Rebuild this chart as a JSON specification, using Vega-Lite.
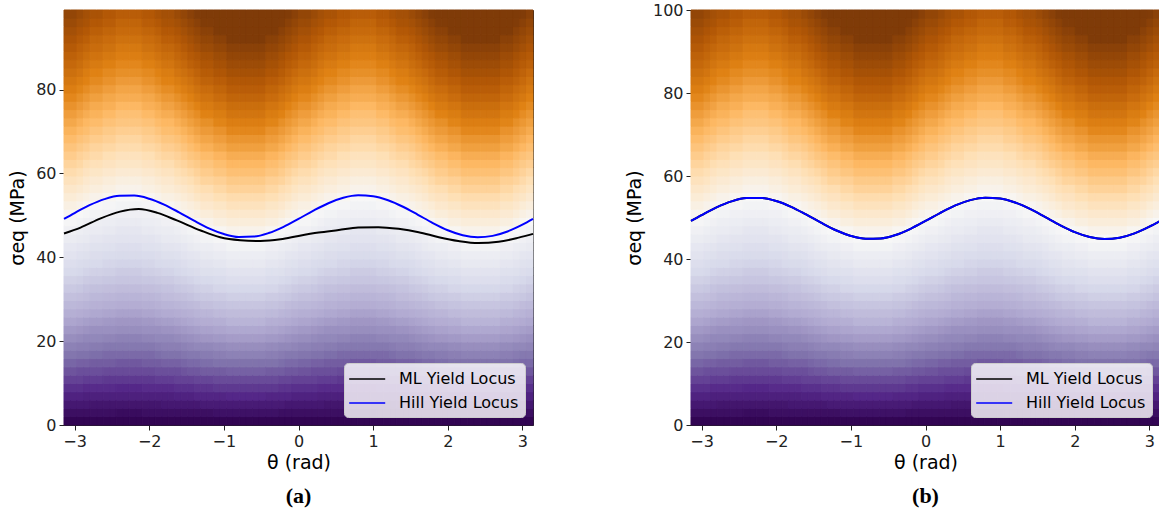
{
  "$schema": "https://vega.github.io/schema/vega-lite/v6.json",
  "padding": {"left": 8, "top": 1, "right": 0, "bottom": 0},
  "background": "white",
  "bounds": "flush",
  "spacing": 158,
  "datasets": {
    "prof": [
      {"L": 45, "s": [1,3,5,7,9,11,13,15,17,19,21,23,25,27,29,31,33,35,37,39,41,43,45,47,49,51,53,55,57,59,61,63,65,67,69,71,73,75,77,79,81,83,85,87,89,91,93,95,97,99],
       "r": [0.02,0.07,0.11,0.16,0.2,0.24,0.29,0.33,0.38,0.42,0.47,0.51,0.56,0.6,0.64,0.69,0.73,0.78,0.82,0.87,0.91,0.96,1,1.04,1.09,1.13,1.18,1.22,1.27,1.31,1.36,1.4,1.44,1.49,1.53,1.58,1.62,1.67,1.71,1.76,1.8,1.84,1.89,1.93,1.98,2.02,2.07,2.11,2.16,2.2]},
      {"L": 46, "s": [1,3,5,7,9,11,13,15,17,19,21,23,25,27,29,31,33,35,37,39,41,43,45,47,49,51,53,55,57,59,61,63,65,67,69,71,73,75,77,79,81,83,85,87,89,91,93,95,97,99],
       "r": [0.02,0.07,0.11,0.15,0.2,0.24,0.28,0.33,0.37,0.41,0.46,0.5,0.54,0.59,0.63,0.67,0.72,0.76,0.8,0.85,0.89,0.93,0.98,1.02,1.07,1.11,1.15,1.2,1.24,1.28,1.33,1.37,1.41,1.46,1.5,1.54,1.59,1.63,1.67,1.72,1.76,1.8,1.85,1.89,1.93,1.98,2.02,2.07,2.11,2.15]},
      {"L": 47, "s": [1,3,5,7,9,11,13,15,17,19,21,23,25,27,29,31,33,35,37,39,41,43,45,47,49,51,53,55,57,59,61,63,65,67,69,71,73,75,77,79,81,83,85,87,89,91,93,95,97,99],
       "r": [0.02,0.06,0.11,0.15,0.19,0.23,0.28,0.32,0.36,0.4,0.45,0.49,0.53,0.57,0.62,0.66,0.7,0.74,0.79,0.83,0.87,0.91,0.96,1,1.04,1.09,1.13,1.17,1.21,1.26,1.3,1.34,1.38,1.43,1.47,1.51,1.55,1.6,1.64,1.68,1.72,1.77,1.81,1.85,1.89,1.94,1.98,2.02,2.06,2.11]},
      {"L": 48, "s": [1,3,5,7,9,11,13,15,17,19,21,23,25,27,29,31,33,35,37,39,41,43,45,47,49,51,53,55,57,59,61,63,65,67,69,71,73,75,77,79,81,83,85,87,89,91,93,95,97,99],
       "r": [0.02,0.06,0.1,0.15,0.19,0.23,0.27,0.31,0.35,0.4,0.44,0.48,0.52,0.56,0.6,0.65,0.69,0.73,0.77,0.81,0.85,0.9,0.94,0.98,1.02,1.06,1.1,1.15,1.19,1.23,1.27,1.31,1.35,1.4,1.44,1.48,1.52,1.56,1.6,1.65,1.69,1.73,1.77,1.81,1.85,1.9,1.94,1.98,2.02,2.06]},
      {"L": 49, "s": [1,3,5,7,9,11,13,15,17,19,21,23,25,27,29,31,33,35,37,39,41,43,45,47,49,51,53,55,57,59,61,63,65,67,69,71,73,75,77,79,81,83,85,87,89,91,93,95,97,99],
       "r": [0.02,0.06,0.1,0.14,0.18,0.22,0.27,0.31,0.35,0.39,0.43,0.47,0.51,0.55,0.59,0.63,0.67,0.71,0.76,0.8,0.84,0.88,0.92,0.96,1,1.04,1.08,1.12,1.16,1.2,1.24,1.29,1.33,1.37,1.41,1.45,1.49,1.53,1.57,1.61,1.65,1.69,1.73,1.78,1.82,1.86,1.9,1.94,1.98,2.02]},
      {"L": 50, "s": [1,3,5,7,9,11,13,15,17,19,21,23,25,27,29,31,33,35,37,39,41,43,45,47,49,51,53,55,57,59,61,63,65,67,69,71,73,75,77,79,81,83,85,87,89,91,93,95,97,99],
       "r": [0.02,0.06,0.1,0.14,0.18,0.22,0.26,0.3,0.34,0.38,0.42,0.46,0.5,0.54,0.58,0.62,0.66,0.7,0.74,0.78,0.82,0.86,0.9,0.94,0.98,1.02,1.06,1.1,1.14,1.18,1.22,1.26,1.3,1.34,1.38,1.42,1.46,1.5,1.54,1.58,1.62,1.66,1.7,1.74,1.78,1.82,1.86,1.9,1.94,1.98]},
      {"L": 51, "s": [1,3,5,7,9,11,13,15,17,19,21,23,25,27,29,31,33,35,37,39,41,43,45,47,49,51,53,55,57,59,61,63,65,67,69,71,73,75,77,79,81,83,85,87,89,91,93,95,97,99],
       "r": [0.02,0.06,0.1,0.14,0.18,0.22,0.25,0.29,0.33,0.37,0.41,0.45,0.49,0.53,0.57,0.61,0.65,0.69,0.73,0.76,0.8,0.84,0.88,0.92,0.96,1,1.04,1.08,1.12,1.16,1.2,1.24,1.27,1.31,1.35,1.39,1.43,1.47,1.51,1.55,1.59,1.63,1.67,1.71,1.75,1.78,1.82,1.86,1.9,1.94]},
      {"L": 52, "s": [1,3,5,7,9,11,13,15,17,19,21,23,25,27,29,31,33,35,37,39,41,43,45,47,49,51,53,55,57,59,61,63,65,67,69,71,73,75,77,79,81,83,85,87,89,91,93,95,97,99],
       "r": [0.02,0.06,0.1,0.13,0.17,0.21,0.25,0.29,0.33,0.37,0.4,0.44,0.48,0.52,0.56,0.6,0.63,0.67,0.71,0.75,0.79,0.83,0.87,0.9,0.94,0.98,1.02,1.06,1.1,1.13,1.17,1.21,1.25,1.29,1.33,1.37,1.4,1.44,1.48,1.52,1.56,1.6,1.63,1.67,1.71,1.75,1.79,1.83,1.87,1.9]},
      {"L": 53, "s": [1,3,5,7,9,11,13,15,17,19,21,23,25,27,29,31,33,35,37,39,41,43,45,47,49,51,53,55,57,59,61,63,65,67,69,71,73,75,77,79,81,83,85,87,89,91,93,95,97,99],
       "r": [0.02,0.06,0.09,0.13,0.17,0.21,0.25,0.28,0.32,0.36,0.4,0.43,0.47,0.51,0.55,0.58,0.62,0.66,0.7,0.74,0.77,0.81,0.85,0.89,0.92,0.96,1,1.04,1.08,1.11,1.15,1.19,1.23,1.26,1.3,1.34,1.38,1.42,1.45,1.49,1.53,1.57,1.6,1.64,1.68,1.72,1.75,1.79,1.83,1.87]},
      {"L": 54, "s": [1,3,5,7,9,11,13,15,17,19,21,23,25,27,29,31,33,35,37,39,41,43,45,47,49,51,53,55,57,59,61,63,65,67,69,71,73,75,77,79,81,83,85,87,89,91,93,95,97,99],
       "r": [0.02,0.06,0.09,0.13,0.17,0.2,0.24,0.28,0.31,0.35,0.39,0.43,0.46,0.5,0.54,0.57,0.61,0.65,0.69,0.72,0.76,0.8,0.83,0.87,0.91,0.94,0.98,1.02,1.06,1.09,1.13,1.17,1.2,1.24,1.28,1.31,1.35,1.39,1.43,1.46,1.5,1.54,1.57,1.61,1.65,1.69,1.72,1.76,1.8,1.83]},
      {"L": 55, "s": [1,3,5,7,9,11,13,15,17,19,21,23,25,27,29,31,33,35,37,39,41,43,45,47,49,51,53,55,57,59,61,63,65,67,69,71,73,75,77,79,81,83,85,87,89,91,93,95,97,99],
       "r": [0.02,0.05,0.09,0.13,0.16,0.2,0.24,0.27,0.31,0.35,0.38,0.42,0.45,0.49,0.53,0.56,0.6,0.64,0.67,0.71,0.75,0.78,0.82,0.85,0.89,0.93,0.96,1,1.04,1.07,1.11,1.15,1.18,1.22,1.25,1.29,1.33,1.36,1.4,1.44,1.47,1.51,1.55,1.58,1.62,1.65,1.69,1.73,1.76,1.8]}
    ],
    "cols": [
      {"k":0,"L":50},{"k":1,"L":50},{"k":2,"L":51},{"k":3,"L":52},{"k":4,"L":53},{"k":5,"L":53},{"k":6,"L":54},{"k":7,"L":54},{"k":8,"L":55},
      {"k":9,"L":55},{"k":10,"L":55},{"k":11,"L":55},{"k":12,"L":54},{"k":13,"L":54},{"k":14,"L":53},{"k":15,"L":52},{"k":16,"L":52},{"k":17,"L":51},
      {"k":18,"L":50},{"k":19,"L":49},{"k":20,"L":48},{"k":21,"L":47},{"k":22,"L":47},{"k":23,"L":46},{"k":24,"L":46},{"k":25,"L":45},{"k":26,"L":45},
      {"k":27,"L":45},{"k":28,"L":45},{"k":29,"L":45},{"k":30,"L":45},{"k":31,"L":46},{"k":32,"L":46},{"k":33,"L":47},{"k":34,"L":48},{"k":35,"L":49},
      {"k":36,"L":50},{"k":37,"L":50},{"k":38,"L":51},{"k":39,"L":52},{"k":40,"L":53},{"k":41,"L":53},{"k":42,"L":54},{"k":43,"L":54},{"k":44,"L":55},
      {"k":45,"L":55},{"k":46,"L":55},{"k":47,"L":55},{"k":48,"L":54},{"k":49,"L":54},{"k":50,"L":53},{"k":51,"L":52},{"k":52,"L":52},{"k":53,"L":51},
      {"k":54,"L":50},{"k":55,"L":49},{"k":56,"L":48},{"k":57,"L":47},{"k":58,"L":47},{"k":59,"L":46},{"k":60,"L":46},{"k":61,"L":45},{"k":62,"L":45},
      {"k":63,"L":45},{"k":64,"L":45},{"k":65,"L":45},{"k":66,"L":45},{"k":67,"L":46},{"k":68,"L":46},{"k":69,"L":47},{"k":70,"L":48},{"k":71,"L":49}
    ],
    "mlA": [
      {"t":-3.1416,"v":45.7},{"t":-2.92,"v":47.1},{"t":-2.65,"v":49.3},{"t":-2.39,"v":50.9},{"t":-2.14,"v":51.5},{"t":-1.89,"v":50.6},
      {"t":-1.63,"v":48.8},{"t":-1.31,"v":46.4},{"t":-1.05,"v":44.8},{"t":-0.78,"v":44.1},{"t":-0.51,"v":43.9},{"t":-0.24,"v":44.3},
      {"t":0,"v":45.1},{"t":0.27,"v":45.9},{"t":0.54,"v":46.5},{"t":0.8,"v":47.1},{"t":1.07,"v":47.2},{"t":1.34,"v":46.8},
      {"t":1.61,"v":46.0},{"t":1.88,"v":44.8},{"t":2.14,"v":43.9},{"t":2.41,"v":43.4},{"t":2.68,"v":43.7},{"t":2.95,"v":44.7},{"t":3.1416,"v":45.6}
    ],
    "hill": [
      {"t":-3.1416,"v":49.16},{"t":-3.0,"v":50.57},{"t":-2.8,"v":52.43},{"t":-2.6,"v":53.88},{"t":-2.4,"v":54.68},{"t":-2.2,"v":54.72},
      {"t":-2.0,"v":53.98},{"t":-1.8,"v":52.58},{"t":-1.6,"v":50.73},{"t":-1.4,"v":48.75},{"t":-1.2,"v":46.92},{"t":-1.0,"v":45.56},
      {"t":-0.8,"v":44.86},{"t":-0.6,"v":44.95},{"t":-0.4,"v":45.79},{"t":-0.2,"v":47.28},{"t":0,"v":49.16},{"t":0.2,"v":51.14},
      {"t":0.4,"v":52.91},{"t":0.6,"v":54.19},{"t":0.8,"v":54.78},{"t":1.0,"v":54.58},{"t":1.2,"v":53.62},{"t":1.4,"v":52.07},
      {"t":1.6,"v":50.15},{"t":1.8,"v":48.18},{"t":2.0,"v":46.47},{"t":2.2,"v":45.28},{"t":2.4,"v":44.8},{"t":2.6,"v":45.12},
      {"t":2.8,"v":46.17},{"t":3.0,"v":47.8},{"t":3.1416,"v":49.16}
    ]
  },
  "hconcat": [
    {
      "title": {"text": "(a)"},
      "width": 469,
      "height": 415,
      "layer": [
        {
          "data": {"name": "cols"},
          "transform": [
            {"lookup": "L", "from": {"data": {"name": "prof"}, "key": "L", "fields": ["s", "r"]}},
            {"flatten": ["s", "r"]}
          ],
          "mark": {"type": "rect", "strokeWidth": 1},
          "encoding": {
            "x": {"field": "k", "type": "ordinal", "axis": null, "scale": {"paddingInner": 0, "paddingOuter": 0}},
            "y": {"field": "s", "type": "ordinal", "sort": "descending", "axis": null, "scale": {"paddingInner": 0, "paddingOuter": 0}},
            "fill": {"field": "r", "type": "quantitative", "legend": null,
              "scale": {"domain": [0,0.16,0.33,0.52,0.74,1,1.2,1.4,1.6,1.83,2.07], "range": ["#2d004b","#542788","#8073ac","#b2abd2","#d8daeb","#f7f7f7","#fee0b6","#fdb863","#e08214","#b35806","#7f3b08"], "interpolate": "rgb", "clamp": true}},
            "stroke": {"field": "r", "type": "quantitative", "legend": null,
              "scale": {"domain": [0,0.16,0.33,0.52,0.74,1,1.2,1.4,1.6,1.83,2.07], "range": ["#2d004b","#542788","#8073ac","#b2abd2","#d8daeb","#f7f7f7","#fee0b6","#fdb863","#e08214","#b35806","#7f3b08"], "interpolate": "rgb", "clamp": true}}
          }
        },
        {
          "layer": [
            {
              "data": {"name": "mlA"},
              "mark": {"type": "line", "strokeWidth": 2, "interpolate": "monotone"},
              "encoding": {
                "x": {"field": "t", "type": "quantitative", "scale": {"domain": [-3.1416, 3.1416], "nice": false, "zero": false},
                  "axis": {"orient": "bottom", "title": "θ (rad)", "values": [-3,-2,-1,0,1,2,3], "format": "d", "labelFlush": false, "grid": false, "labelPadding": 3, "titlePadding": 4}},
                "y": {"field": "v", "type": "quantitative", "scale": {"domain": [0, 99], "nice": false, "zero": false},
                  "axis": {"orient": "left", "title": "σeq (MPa)", "values": [0,20,40,60,80,100], "format": "d", "labelFlush": false, "grid": false, "labelPadding": 3, "titlePadding": 8}},
                "color": {"datum": "ML Yield Locus", "type": "nominal",
                  "scale": {"domain": ["ML Yield Locus", "Hill Yield Locus"], "range": ["#000000", "#0000ff"]},
                  "legend": {"orient": "bottom-right", "offset": 8, "title": null, "symbolType": "M-1.2,0H2.8", "symbolSize": 324, "symbolStrokeWidth": 1.5, "labelFontSize": 16, "labelFont": "DejaVu Sans", "labelColor": "#000000", "labelOffset": 29, "rowPadding": 6, "padding": 6, "fillColor": "rgba(255,255,255,0.8)", "strokeColor": "#cccccc", "cornerRadius": 4}}
              }
            },
            {
              "data": {"name": "hill"},
              "mark": {"type": "line", "strokeWidth": 2, "interpolate": "monotone"},
              "encoding": {
                "x": {"field": "t", "type": "quantitative"},
                "y": {"field": "v", "type": "quantitative"},
                "color": {"datum": "Hill Yield Locus", "type": "nominal"}
              }
            }
          ]
        }
      ],
      "resolve": {"scale": {"x": "independent", "y": "independent"}}
    },
    {
      "title": {"text": "(b)"},
      "width": 469,
      "height": 415,
      "layer": [
        {
          "data": {"name": "cols"},
          "transform": [
            {"lookup": "L", "from": {"data": {"name": "prof"}, "key": "L", "fields": ["s", "r"]}},
            {"flatten": ["s", "r"]}
          ],
          "mark": {"type": "rect", "strokeWidth": 1},
          "encoding": {
            "x": {"field": "k", "type": "ordinal", "axis": null, "scale": {"paddingInner": 0, "paddingOuter": 0}},
            "y": {"field": "s", "type": "ordinal", "sort": "descending", "axis": null, "scale": {"paddingInner": 0, "paddingOuter": 0}},
            "fill": {"field": "r", "type": "quantitative", "legend": null,
              "scale": {"domain": [0,0.16,0.33,0.52,0.74,1,1.2,1.4,1.6,1.83,2.07], "range": ["#2d004b","#542788","#8073ac","#b2abd2","#d8daeb","#f7f7f7","#fee0b6","#fdb863","#e08214","#b35806","#7f3b08"], "interpolate": "rgb", "clamp": true}},
            "stroke": {"field": "r", "type": "quantitative", "legend": null,
              "scale": {"domain": [0,0.16,0.33,0.52,0.74,1,1.2,1.4,1.6,1.83,2.07], "range": ["#2d004b","#542788","#8073ac","#b2abd2","#d8daeb","#f7f7f7","#fee0b6","#fdb863","#e08214","#b35806","#7f3b08"], "interpolate": "rgb", "clamp": true}}
          }
        },
        {
          "layer": [
            {
              "data": {"name": "hill"},
              "mark": {"type": "line", "strokeWidth": 2, "interpolate": "monotone"},
              "encoding": {
                "x": {"field": "t", "type": "quantitative", "scale": {"domain": [-3.1416, 3.1416], "nice": false, "zero": false},
                  "axis": {"orient": "bottom", "title": "θ (rad)", "values": [-3,-2,-1,0,1,2,3], "format": "d", "labelFlush": false, "grid": false, "labelPadding": 3, "titlePadding": 4}},
                "y": {"field": "v", "type": "quantitative", "scale": {"domain": [0, 100], "nice": false, "zero": false},
                  "axis": {"orient": "left", "title": "σeq (MPa)", "values": [0,20,40,60,80,100], "format": "d", "labelFlush": false, "grid": false, "labelPadding": 3, "titlePadding": 8}},
                "color": {"datum": "ML Yield Locus", "type": "nominal",
                  "scale": {"domain": ["ML Yield Locus", "Hill Yield Locus"], "range": ["#000000", "#0000ff"]},
                  "legend": {"orient": "bottom-right", "offset": 8, "title": null, "symbolType": "M-1.2,0H2.8", "symbolSize": 324, "symbolStrokeWidth": 1.5, "labelFontSize": 16, "labelFont": "DejaVu Sans", "labelColor": "#000000", "labelOffset": 29, "rowPadding": 6, "padding": 6, "fillColor": "rgba(255,255,255,0.8)", "strokeColor": "#cccccc", "cornerRadius": 4}}
              }
            },
            {
              "data": {"name": "hill"},
              "mark": {"type": "line", "strokeWidth": 2, "interpolate": "monotone"},
              "encoding": {
                "x": {"field": "t", "type": "quantitative"},
                "y": {"field": "v", "type": "quantitative"},
                "color": {"datum": "Hill Yield Locus", "type": "nominal"}
              }
            }
          ]
        }
      ],
      "resolve": {"scale": {"x": "independent", "y": "independent"}}
    }
  ],
  "resolve": {"scale": {"x": "independent", "y": "independent", "color": "independent", "fill": "independent", "stroke": "independent"}, "legend": {"color": "independent"}},
  "config": {
    "view": {"stroke": "#222222", "strokeWidth": 1},
    "axis": {"labelFont": "DejaVu Sans", "titleFont": "DejaVu Sans", "labelFontSize": 16, "titleFontSize": 19, "titleFontWeight": "normal", "labelColor": "#222222", "titleColor": "#000000", "tickColor": "#222222", "domainColor": "#222222", "tickSize": 5, "tickWidth": 1},
    "title": {"orient": "bottom", "anchor": "middle", "frame": "group", "font": "Liberation Serif", "fontSize": 22, "fontWeight": "bold", "color": "#000000", "offset": 14}
  }
}
